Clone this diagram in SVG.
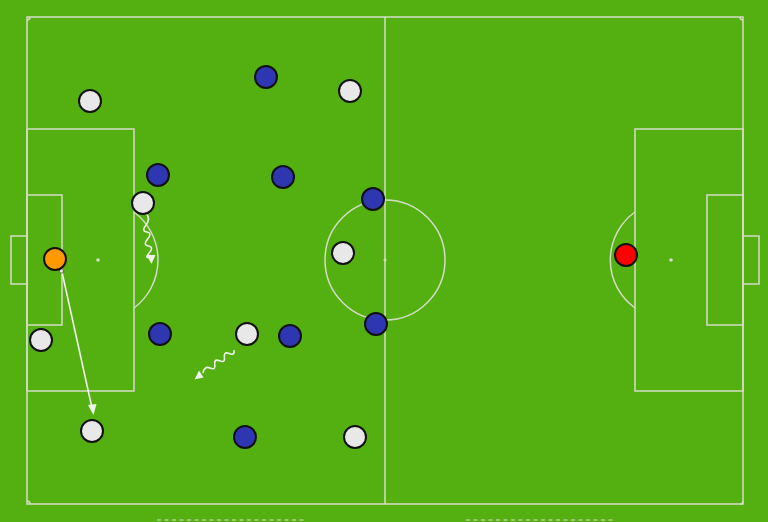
<svg xmlns="http://www.w3.org/2000/svg" width="768" height="522" viewBox="0 0 768 522">
<style>
.ln{fill:none;stroke:#d4dcc6;stroke-width:1.5}
.w{fill:#e8e8e8;stroke:#111;stroke-width:2}
.b{fill:#2e36b2;stroke:#111;stroke-width:2}
.mv{fill:none;stroke:#eef2ea;stroke-width:1.6}
.ah{fill:#eef2ea}
</style>
<rect width="768" height="522" fill="#53b010"/>
<g id="pitch">
<rect class="ln" x="27" y="17" width="716" height="487"/>
<line class="ln" x1="385" y1="17" x2="385" y2="504"/>
<circle class="ln" cx="385" cy="260" r="60"/>
<circle cx="385" cy="260" r="1.5" fill="#d4dcc6"/>
<rect class="ln" x="27" y="129" width="107" height="262"/>
<rect class="ln" x="27" y="195" width="35" height="130"/>
<rect class="ln" x="11" y="236" width="16" height="48"/>
<circle cx="98" cy="260" r="1.8" fill="#d4dcc6"/>
<path class="ln" d="M134,212 A60,60 0 0 1 134,308"/>
<rect class="ln" x="635" y="129" width="108" height="262"/>
<rect class="ln" x="707" y="195" width="36" height="130"/>
<rect class="ln" x="743" y="236" width="16" height="48"/>
<circle cx="671" cy="260" r="1.8" fill="#d4dcc6"/>
<path class="ln" d="M635,212 A59,59 0 0 0 635,308"/>
<path class="ln" d="M27,20 A3,3 0 0 0 30,17 M740,17 A3,3 0 0 0 743,20 M27,501 A3,3 0 0 1 30,504 M743,501 A3,3 0 0 1 740,504"/>
<line x1="157" y1="520" x2="305" y2="520" stroke="#c8d4b8" stroke-width="2" stroke-dasharray="4 3.5" opacity="0.6"/>
<line x1="466" y1="520" x2="614" y2="520" stroke="#c8d4b8" stroke-width="2" stroke-dasharray="4 3.5" opacity="0.6"/>
</g>
<g id="connectors">
<line class="mv" x1="62" y1="272" x2="92" y2="408"/>
<polygon class="ah" points="93.5,415 88,405 96.5,404"/>
<path class="mv" d="M146,213 Q151,219 146,225 T146.8,232 T147.6,239 T148.4,246 T149.2,253 T150,257"/>
<polygon class="ah" points="151.5,264 146.5,255 155.5,255"/>
<path class="mv" d="M234,350 Q235,356 229.2,353.6 T224.4,357.2 T219.6,360.8 T214.8,364.4 T210,368 T203,373"/>
<polygon class="ah" points="194.5,379.5 203.5,377.5 199,370.5"/>
</g>
<g id="ball"><circle cx="61.5" cy="271" r="2.2" fill="#ddd" stroke="#555" stroke-width="0.8"/></g>
<g id="white-players">
<circle id="w1" class="w" cx="90" cy="101" r="11"/>
<circle id="w2" class="w" cx="350" cy="91" r="11"/>
<circle id="w3" class="w" cx="143" cy="203" r="11"/>
<circle id="w4" class="w" cx="343" cy="253" r="11"/>
<circle id="w5" class="w" cx="41" cy="340" r="11"/>
<circle id="w6" class="w" cx="247" cy="334" r="11"/>
<circle id="w7" class="w" cx="92" cy="431" r="11"/>
<circle id="w8" class="w" cx="355" cy="437" r="11"/>
</g>
<g id="blue-players">
<circle id="b1" class="b" cx="266" cy="77" r="11"/>
<circle id="b2" class="b" cx="158" cy="175" r="11"/>
<circle id="b3" class="b" cx="283" cy="177" r="11"/>
<circle id="b4" class="b" cx="373" cy="199" r="11"/>
<circle id="b5" class="b" cx="160" cy="334" r="11"/>
<circle id="b6" class="b" cx="290" cy="336" r="11"/>
<circle id="b7" class="b" cx="376" cy="324" r="11"/>
<circle id="b8" class="b" cx="245" cy="437" r="11"/>
</g>
<g id="goalkeepers">
<circle id="gk-orange" cx="55" cy="259" r="11" fill="#ff9900" stroke="#111" stroke-width="2"/>
<circle id="gk-red" cx="626" cy="255" r="11" fill="#ff0000" stroke="#111" stroke-width="2"/>
</g>
</svg>
